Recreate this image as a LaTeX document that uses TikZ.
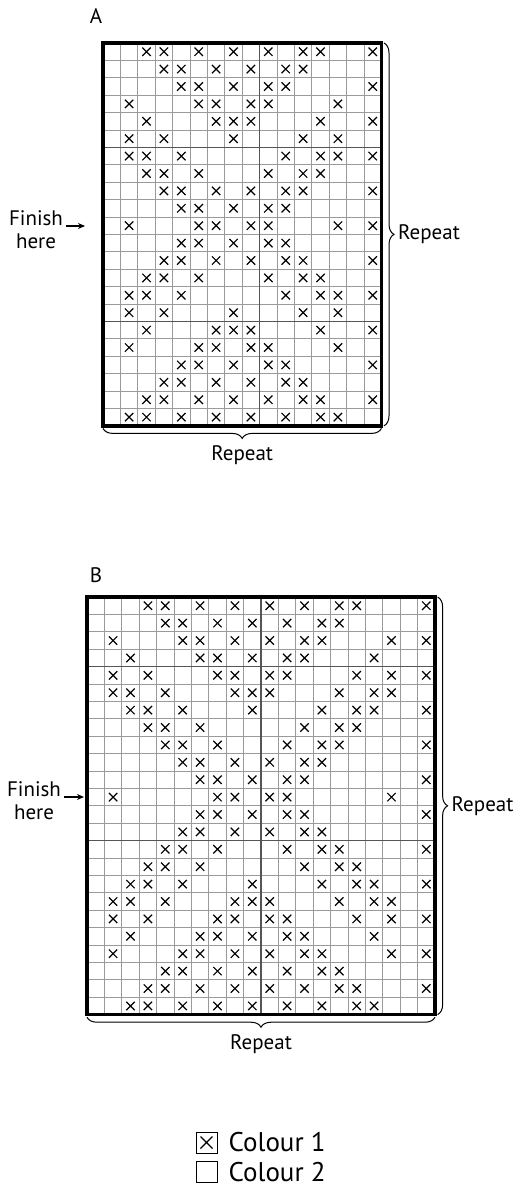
\documentclass[tikz,border=0pt]{standalone}
\usepackage{fontspec}
\setmainfont{PT Sans}
\usepackage{xcolor}
\usetikzlibrary{arrows.meta, positioning, decorations.pathreplacing}
\definecolor{gridgrey}{HTML}{9A9A9A}
\definecolor{divgrey}{HTML}{555555}

\begin{document}
\begin{tikzpicture}[x=1pt, y=-1pt,
    cellline/.style={draw=gridgrey, line width=0.8pt},
    divline/.style={draw=divgrey, line width=1.4pt},
    frameline/.style={draw=black, line width=3.5pt},
    crossline/.style={draw=black, line width=1.2pt},
    txt/.style={font=\fontsize{21}{23}\selectfont, inner sep=0pt},
    keytxt/.style={font=\fontsize{27}{30}\selectfont, inner sep=0pt},
    keybox/.style={draw=black, line width=0.9pt, minimum size=21pt, inner sep=0pt},
    repbrace/.style={decorate, decoration={brace, amplitude=10pt}, line width=1pt},
    finarrow/.style={-{Stealth[length=7pt, width=6pt]}, line width=1.2pt, shorten <=3pt}]
  \useasboundingbox (0,0) rectangle (523,1193);

  % chart A
  \node[txt] (titleA) at (96,16) {A};
  \begin{scope}[shift={(103,43)}, x=17.4pt, y=-17.4pt]
    \foreach \i in {1,...,15} \draw[cellline] (\i,0) -- (\i,22);
    \foreach \j in {1,...,21} \draw[cellline] (0,\j) -- (16,\j);
    \draw[divline] (9,0) -- (9,22) (0,6) -- (16,6) (0,16) -- (16,16);
    \foreach \r/\rowcols in {
        1/{3,4,6,8,10,12,13,16}, 2/{4,5,7,9,11,12}, 3/{5,6,8,10,11,16},
        4/{2,6,7,9,10,14}, 5/{3,7,8,9,13,16}, 6/{2,4,8,12,14},
        7/{2,3,5,11,13,14,16}, 8/{3,4,6,10,12,13}, 9/{4,5,7,9,11,12,16},
        10/{5,6,8,10,11}, 11/{2,6,7,9,10,14,16}, 12/{5,6,8,10,11},
        13/{4,5,7,9,11,12,16}, 14/{3,4,6,10,12,13}, 15/{2,3,5,11,13,14,16},
        16/{2,4,8,12,14}, 17/{3,7,8,9,13,16}, 18/{2,6,7,9,10,14},
        19/{5,6,8,10,11,16}, 20/{4,5,7,9,11,12}, 21/{3,4,6,8,10,12,13,16},
        22/{2,3,5,7,9,11,13,14}}
      \foreach \c in \rowcols
        \draw[crossline] (\c-0.74,\r-0.74) -- (\c-0.26,\r-0.26)
                         (\c-0.74,\r-0.26) -- (\c-0.26,\r-0.74);
    \draw[frameline] (0,0) rectangle (16,22);
    \draw[repbrace] (16.15,0) -- (16.15,22);
    \draw[repbrace] (16,22.15) -- (0,22.15);
    \node[txt, anchor=west] (repsideA) at (16.95,11) {Repeat};
    \node[txt] (repbotA) at (8,23.7) {Repeat};
  \end{scope}
  \coordinate (finA) at (85,226);
  \node[txt, align=center] (finishA) at (36,230) {Finish\\here};
  \draw[finarrow] (finishA.east |- finA) -- (finA);

  % chart B
  \node[txt] (titleB) at (96,575) {B};
  \begin{scope}[shift={(87,597)}, x=17.4pt, y=-17.4pt]
    \foreach \i in {1,...,19} \draw[cellline] (\i,0) -- (\i,24);
    \foreach \j in {1,...,23} \draw[cellline] (0,\j) -- (20,\j);
    \draw[divline] (10,0) -- (10,24) (0,4) -- (20,4) (0,14) -- (20,14);
    \foreach \r/\rowcols in {
        1/{4,5,7,9,11,13,15,16,20}, 2/{5,6,8,10,12,14,15},
        3/{2,6,7,9,11,13,14,18,20}, 4/{3,7,8,10,12,13,17},
        5/{2,4,8,9,11,12,16,18,20}, 6/{2,3,5,9,10,11,15,17,18},
        7/{3,4,6,10,14,16,17,20}, 8/{4,5,7,13,15,16},
        9/{5,6,8,12,14,15,20}, 10/{6,7,9,11,13,14},
        11/{7,8,10,12,13,20}, 12/{2,8,9,11,12,18},
        13/{7,8,10,12,13,20}, 14/{6,7,9,11,13,14},
        15/{5,6,8,12,14,15,20}, 16/{4,5,7,13,15,16},
        17/{3,4,6,10,14,16,17,20}, 18/{2,3,5,9,10,11,15,17,18},
        19/{2,4,8,9,11,12,16,18,20}, 20/{3,7,8,10,12,13,17},
        21/{2,6,7,9,11,13,14,18,20}, 22/{5,6,8,10,12,14,15},
        23/{4,5,7,9,11,13,15,16,20}, 24/{3,4,6,8,10,12,14,16,17}}
      \foreach \c in \rowcols
        \draw[crossline] (\c-0.74,\r-0.74) -- (\c-0.26,\r-0.26)
                         (\c-0.74,\r-0.26) -- (\c-0.26,\r-0.74);
    \draw[frameline] (0,0) rectangle (20,24);
    \draw[repbrace] (20.15,0) -- (20.15,24);
    \draw[repbrace] (20,24.15) -- (0,24.15);
    \node[txt, anchor=west] (repsideB) at (20.95,12) {Repeat};
    \node[txt] (repbotB) at (10,25.7) {Repeat};
  \end{scope}
  \coordinate (finB) at (84,797);
  \node[txt, align=center] (finishB) at (34,801) {Finish\\here};
  \draw[finarrow] (finishB.east |- finB) -- (finB);

  % key
  \node[keybox] (key1) at (206.5,1142.5) {};
  \draw[crossline] (key1.center) +(-6,-6) -- +(6,6) (key1.center) +(-6,6) -- +(6,-6);
  \node[keybox, below=8pt of key1] (key2) {};
  \node[keytxt, right=11pt of key1] (col1) {Colour 1};
  \node[keytxt, right=11pt of key2] (col2) {Colour 2};
\end{tikzpicture}
\end{document}
